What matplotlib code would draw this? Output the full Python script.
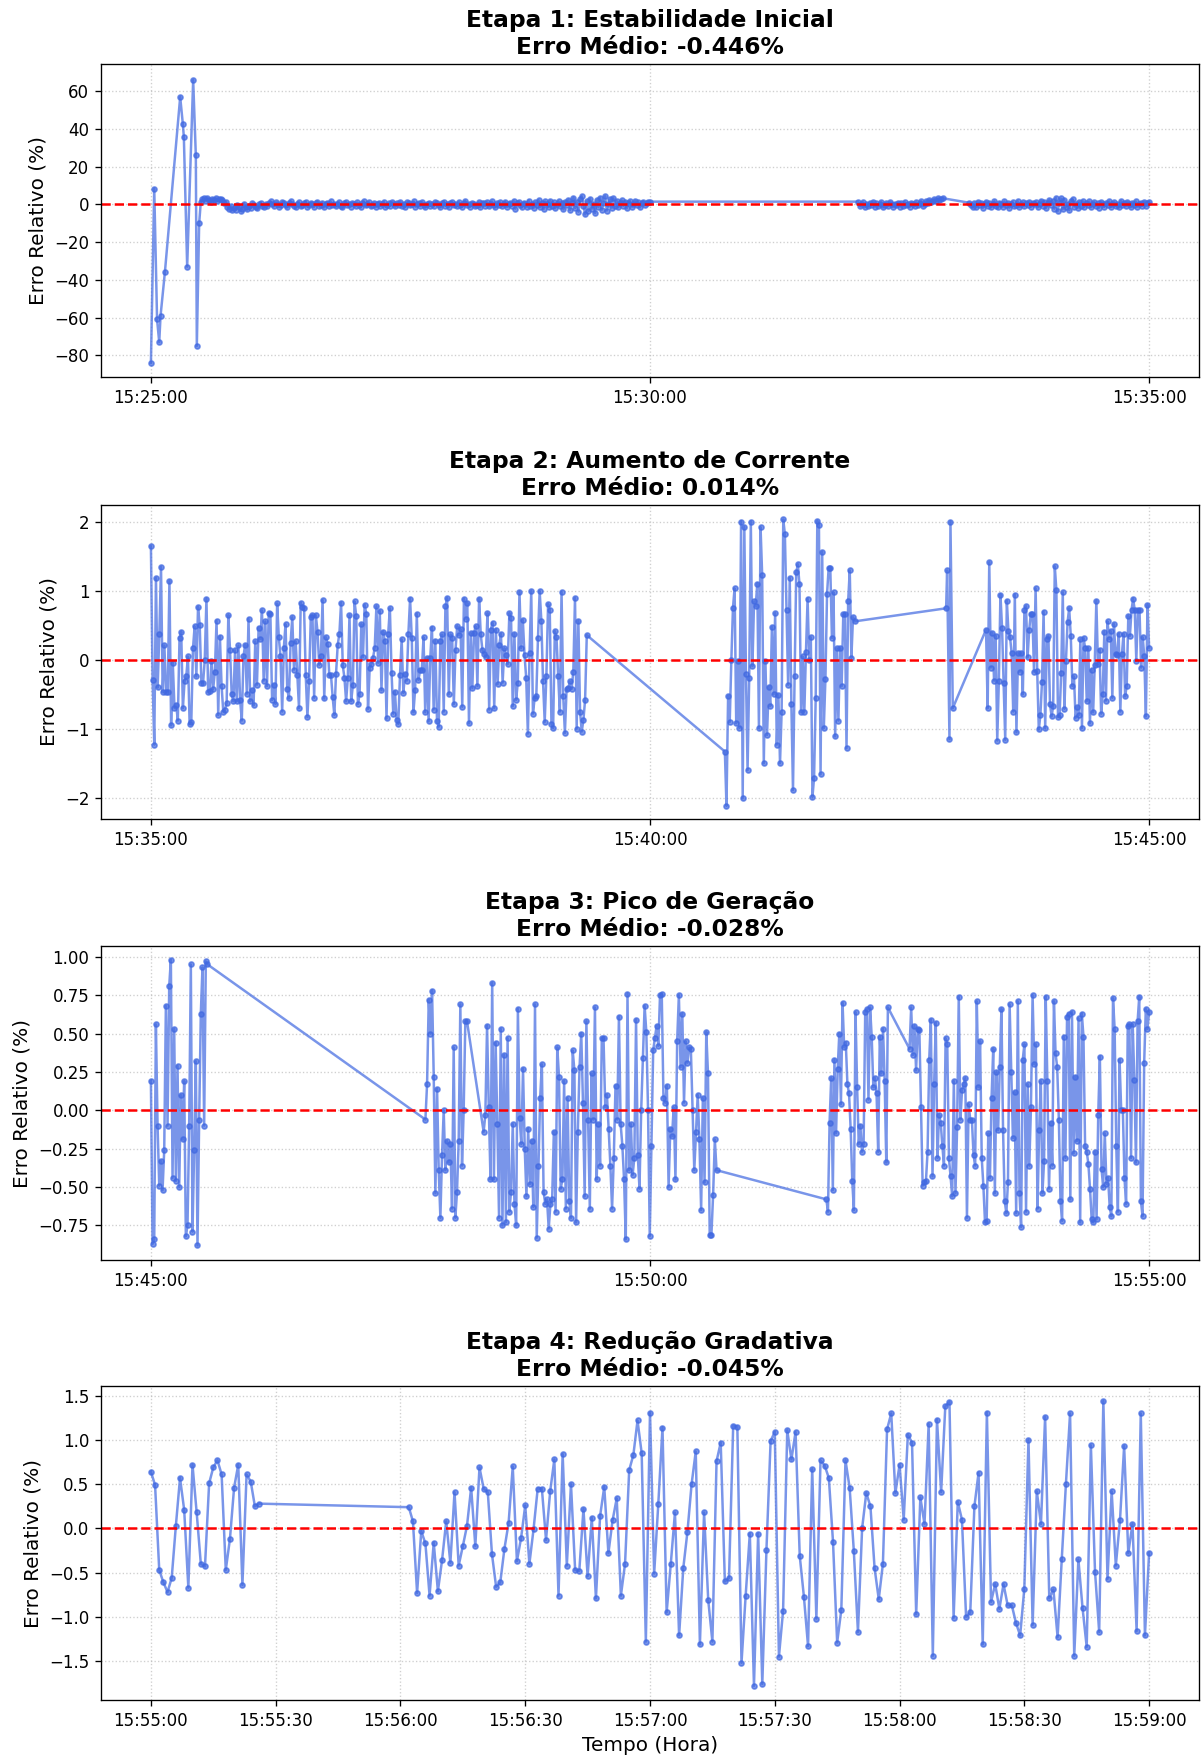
import numpy as np
import pandas as pd
import matplotlib
matplotlib.use("Agg")
import matplotlib.pyplot as plt
import matplotlib.dates as mdates

DAY = "2024-01-01"

# ---------------- Etapa 1 (start 15:25:00) ----------------
P1_START = "15:25:00"
P1_TITLE = "Etapa 1: Estabilidade Inicial"
P1_MEAN = "-0.446"
P1_HEAD_T = [0, 2, 3.7, 5, 5.8, 8.4, 17.6, 19.2, 19.8, 21.8, 25.4, 27, 27.6, 29]
P1_HEAD_V = [-84, 8.4, -61, -73, -59, -36, 57, 42.6, 35.8, -33, 66, 26, -75, -10]
P1_SEG1_SPAN = (30, 300)
P1_SEG1_V = [
    1.5, 2.8, 3.2, 2.1, 3.5, 2.4, 1.2, 3.0, 2.6, 3.4, 1.8, 2.9, 3.1, 2.2, 0.8, 1.5,
    -1.2, -2.5, -0.8, -3.1, -1.9, -2.8, -0.5, -1.6, -3.4, -2.2, 0.4, -1.1, -2.6, -0.9, -1.8, 0.6, -0.3, -1.4, -2.1, 0.2, 0.9, -0.7, -1.5, 0.3, -0.6,
    0.8, 1.6, 0.2, -0.9, 1.1, 0.5, -1.3, -0.4, 1.4, 0.7, -0.2, -1.1, 0.9, 1.8, 0.3, -0.6, -1.5, 0.4, 1.2, -0.8,
    -0.3, 0.6, 1.5, -1.2, -0.5, 0.9, 0.1, -1.4, 0.7, 1.3, -0.7, -0.1, 1.0, -1.6, 0.4, 0.8, -0.9, 1.7, -0.2, 0.5,
    -1.0, 0.3, 1.2, -0.6, -1.3, 0.6, 1.4, -0.4, 0.2, -1.1, 0.9, 0.4, -0.8, 1.1, -0.3, -1.5, 0.7, 1.6, -0.5, 0.1,
    1.3, -0.9, -0.2, 0.8, -1.4, 0.5, 1.0, -0.7, 0.3, 1.5, -1.2, -0.1, 0.6, -0.6, 1.2, 0.2, -1.0, 0.9, -0.4, 1.4,
    -0.8, 0.4, -1.3, 1.1, 0.7, -0.5, 0.0, 1.6, -1.1, 0.3, 0.8, -0.9, 1.3, -0.2, -1.4, 0.5, 1.0, -0.6, 0.2, -1.0,
    1.2, 0.6, -0.3, -1.2, 0.9, 1.5, -0.7, 0.1, -1.6, 0.7, 1.1, -0.4, 0.4, -0.9, 1.4, -0.1, -1.3, 0.8, 1.7, -0.5,
    0.3, -1.1, 1.0, 0.5, -0.8, -0.2, 1.3, -1.5, 0.6, 0.9, -0.6, 1.2, -1.0, 0.2, 1.6, -0.3, -1.2, 0.7, -0.4, 1.1,
    -0.9, 0.4, 1.5, -1.3, 0.0, 0.8, -0.7, 1.9, -2.2, 0.6, 1.4, -0.5, -1.6, 1.0, 0.3, -1.1, 2.1, -0.8, 0.5, -1.8,
    1.2, -0.4, 2.3, -1.5, 0.7, -2.4, 1.6, 0.2, -1.2, 2.0, -0.6, 1.1, -2.0, 0.4, 1.8, -1.0, 0.9, -2.6, 1.4, -0.3,
    2.5, -3.0, 0.8, 3.6, -1.9, 1.2, -3.8, 2.9, 4.4, -0.6, -5.3, 1.7, -3.5, 3.1, -2.2, 0.5, -4.6, 2.4, -1.4, 3.5,
    -2.8, 1.0, 4.4, -3.2, 0.2, 2.7, -1.7, 3.3, -0.9, 1.9,
    -1.5, 0.6, 2.2, -0.8, 1.4, -2.0, 0.9, 1.8, -1.1, 0.3, 2.0, -0.5, 1.2, -1.6, 0.7, 1.5, -0.4, 0.8, 1.1, 1.5,
]
P1_SEG2_SPAN = (425, 476)
P1_SEG2_V = [
    1.5, -0.8, 0.4, 1.2, -1.5, 0.2, -1.0, 0.9, -0.3, 1.4, -1.2, 0.6, -0.6, 0.1, 1.1, -1.6, -0.2, 0.8, -0.9, 1.3,
    0.3, -1.3, 0.5, -0.4, 1.0, -1.1, 0.7, -0.7, 1.5, -0.2, 0.4, -1.4, 0.9, 0.0, -0.8, 1.2, -0.5, 0.6, 1.6, -1.0,
    0.2, 1.9, 0.8, 2.4, 1.1, 2.0, 2.8, 1.6, 3.2, 2.5, 3.0, 3.3,
]
P1_SEG3_SPAN = (492, 600)
P1_SEG3_V = [
    0.9, -0.5, -1.6, 0.7, -1.2, 1.4, -0.3, 0.6, -1.8, 0.2, 1.5, -0.9, 0.8, -1.5, 0.4, 1.7, -0.6, -1.3, 1.0, 0.1,
    -1.1, 1.6, -0.4, 0.9, -1.7, 0.5, 1.3, -0.8, -0.2, 1.8, -1.4, 0.3, 1.1, -1.0, 0.6, -0.5, 1.5, -1.2, 0.8, 0.0,
    1.2, -1.6, 0.4, 2.1, -0.7, 1.4, -1.9, 0.7, 2.4, -0.3, 1.9, -2.2, 3.4, -3.6, 1.0, 3.2, -2.5, 2.6, -1.4, 0.5,
    -3.0, 1.8, 2.9, -1.1, 0.3, -1.8, 1.3, -0.6, 2.0, -1.3, 0.9, -0.4, 1.6, -1.5, 0.2, 1.1, -0.9, 0.6, -1.7, 1.4,
    0.4, -1.2, 0.8, -0.3, 1.7, -1.4, 0.1, 1.2, -0.8, 0.5, -1.6, 1.9, -0.2, 0.7, -1.0, 1.3, 0.3, -1.5, 0.9, -0.5,
    1.6, -1.1, 0.2, 1.0, -0.7, 1.4, -0.6, 0.8, 1.2,
]

# ---------------- Etapa 2 (start 15:35:00) ----------------
P2_START = "15:35:00"
P2_TITLE = "Etapa 2: Aumento de Corrente"
P2_MEAN = "0.014"
P2_SEG1_SPAN = (0, 262)
P2_SEG1_V = [
    1.65, -0.29, -1.23, 1.19, -0.40, 0.37, 1.35, -0.47, 0.21, -0.46, -0.46, 1.15, -0.95, -0.04, -0.70, -0.65,
    -0.88, 0.32, 0.41, -0.70, -0.31, -0.24, 0.05, -0.93, -0.90, 0.17, 0.49, -0.24, 0.77, 0.51, -0.33, -0.33,
    0.00, 0.89, -0.46, -0.45, -0.02, -0.42, -0.17, 0.57, -0.80, 0.34, -0.38, -0.75, -0.72, -0.63, 0.65, 0.15,
    -0.50, -0.60, 0.14, -0.60, 0.21, -0.58, -0.88, 0.05, 0.22, -0.49, 0.60, -0.60, -0.43, -0.66, 0.27, -0.36,
    0.47, 0.30, 0.72, -0.30, 0.56, -0.38, 0.68, 0.66, -0.58, -0.36, -0.64, 0.82, 0.33, 0.05, -0.75, 0.18,
    0.52, -0.42, -0.56, 0.25, 0.62, -0.14, 0.27, -0.22, -0.70, 0.83, 0.77, 0.76, -0.22, -0.83, -0.30, 0.62,
    0.65, -0.55, 0.65, 0.41, -0.07, 0.05, 0.87, -0.56, 0.33, 0.23, -0.22, -0.22, -0.54, -0.80, -0.20, 0.22,
    0.38, 0.83, -0.08, -0.26, -0.60, -0.26, 0.65, -0.60, -0.37, 0.85, 0.64, -0.64, -0.50, 0.52, 0.04, 0.80,
    0.67, -0.71,
    -0.11, -0.06, 0.03, 0.18, 0.78, -0.04, 0.71, -0.44, 0.41, 0.27, -0.85, 0.38, 0.75, -0.19, -0.78, -0.46,
    -0.87, -0.93, -0.22, 0.30, -0.48, -0.20, -0.30, 0.38, 0.89, 0.32, -0.76, -0.43, 0.67, -0.29, -0.14, -0.14,
    0.33, -0.76, 0.03, -0.89, 0.03, 0.47, -0.72, 0.28, -0.89, -0.97, 0.28, 0.37, -0.75, 0.78, 0.90, -0.50,
    0.37, 0.32, -0.64, 0.15, 0.49, 0.36, 0.45, -0.68, 0.89, 0.60, 0.83, -0.92, 0.39, -0.41, 0.39, 0.49,
    -0.38, 0.89, 0.37, 0.14, 0.09, 0.04, 0.68, -0.72, 0.44, 0.54, -0.70, 0.44, -0.35, 0.22, 0.38, -0.33,
    0.17, 0.07, -0.06, 0.68, 0.61, -0.67, 0.38, -0.58, -0.33, 0.99, 0.17, 0.58, 0.07, -0.26, -1.07, 0.10,
    1.00, -0.78, -0.56, -0.53, 0.32, 1.00, 0.57, -0.31, -0.90, -0.23, 0.81, 0.73, -0.93, -0.99, 0.42, 0.33,
    -0.23, -0.75, 0.99, -0.53, -1.06, -0.42, -0.41, -0.31, -0.42, -0.17, 0.90, -1.00, 0.57, -0.75, -1.04, -0.87,
    -0.58, 0.36,
]
P2_SEG2_SPAN = (345, 423)
P2_SEG2_V = [
    -1.33, -2.12, -0.52, -0.90, 0.00, 0.76, 1.04, -0.92, -0.01, -0.99, 2.01, -2.01, 1.93, -0.21, -1.60, -0.26,
    2.01, -0.09, 0.85, 0.78, 1.11, -0.99, 1.93, 1.23, -1.50, -0.01, -1.09, -0.39, -0.67, 0.48, -0.50, 0.68,
    -1.23, -0.51, -1.50, -0.75, 2.04, 1.83, 0.72, -0.36, 1.19, -0.64, -1.89, -0.23, 1.27, 1.39, 1.10, -0.76,
    0.05, -0.75, 0.12, 0.89, 0.00, 0.33, -1.99, -1.71, -0.56, 2.02, 1.96, -1.66, 1.57, -0.99, -0.27, 0.96,
    1.34, 1.33, 0.32, 0.98, -1.11, 0.17, -0.88, 0.17, -0.38, 0.66, 0.67, -1.28, 0.85, 1.30, 0.03, 0.62, 0.56,
]
P2_SPIKE_T = [478, 478.6, 480, 480.6, 482]
P2_SPIKE_V = [0.75, 1.30, -1.15, 2.01, -0.70]
P2_SEG3_SPAN = (502, 600)
P2_SEG3_V = [
    0.44, -0.70, 1.42, -0.11, 0.39, -0.30, 0.35, -1.17, -0.31, 0.95, 0.47, -0.33, -1.16, 0.86, 0.42, 0.33,
    0.10, -0.75, 0.95, -1.05, 0.10, -0.17, 0.10, -0.50, 0.73, 0.78, 0.04, 0.44, 0.67, 0.66, -0.17, 1.04,
    -0.16, -1.01, -0.80, -0.32, 0.70, -0.99, 0.31, 0.35, -0.64, -0.82, -0.67, 1.36, 1.01, -0.83, -0.80, -0.19,
    0.98, -0.71, -0.01, 0.55, 0.75, 0.35, -0.38, -0.24, -0.84, -0.69, -0.80, 0.30, -0.99, 0.32, 0.17, -0.60,
    0.17, -0.92, -0.14, -0.76, -0.07, 0.86, -0.06, 0.15, -0.78, -0.50, 0.41, -0.59, 0.56, 0.31, 0.42, -0.55,
    0.52, 0.08, 0.07, 0.38, -0.75, 0.08, 0.38, -0.53, -0.38, 0.64, 0.35, 0.72, 0.89, 0.73, -0.01, 0.73,
    0.73, -0.11, 0.33, 0.05, -0.82, 0.80, 0.18,
]

# ---------------- Etapa 3 (start 15:45:00) ----------------
P3_START = "15:45:00"
P3_TITLE = "Etapa 3: Pico de Geração"
P3_MEAN = "-0.028"
P3_SEG1_SPAN = (0, 34)
P3_SEG1_V = [
    0.19, -0.87, -0.84, 0.56, -0.10, -0.49, -0.33, -0.52, -0.26, 0.68, -0.10, 0.81, 0.98, -0.44, 0.53, -0.46,
    0.29, -0.50, 0.10, -0.19, 0.19, -0.82, -0.75, -0.10, 0.95, -0.79, -0.26, 0.32, -0.88, -0.06, 0.63, 0.93,
    -0.10, 0.97, 0.95,
]
P3_SEG2_SPAN = (165, 190)
P3_SEG2_V = [
    -0.06, 0.17, 0.72, 0.50, 0.78, 0.22, -0.54, 0.14, -0.39, -0.70, -0.29, 0.00, -0.39, -0.20, -0.34, -0.22,
    -0.64, 0.41, -0.70, -0.53, -0.20, 0.69, -0.36, 0.00, 0.58, 0.58,
]
P3_SEG3_SPAN = (200, 340)
P3_SEG3_V = [
    -0.14, -0.03, 0.55, 0.02, -0.45, 0.83, -0.45, 0.44, -0.09, -0.70, 0.53, -0.75, 0.36, -0.73, 0.47, -0.66,
    -0.53, -0.09, -0.61, -0.75, 0.66, -0.05, -0.22, 0.27, -0.25, -0.56, -0.12, -0.48, -0.20, -0.63, 0.69, -0.83,
    -0.36, 0.08, 0.30, -0.53, -0.61, -0.58, -0.77, -0.61, -0.58, -0.14, -0.66, 0.41, 0.22, -0.51, -0.45, 0.19,
    -0.64, 0.08, -0.59, -0.70, 0.39, 0.26, -0.73, -0.14, 0.28, 0.50, 0.05, -0.56, 0.58, -0.06, -0.64, 0.24,
    -0.06, 0.67, -0.45, -0.09, -0.36, 0.47, 0.47, 0.02, 0.10, -0.12, -0.36, -0.64, -0.31, 0.16, -0.06, 0.61,
    -0.09, -0.23, -0.45, -0.84, 0.76, -0.39, -0.09, -0.42, -0.31, 0.59, -0.29, -0.51, 0.00, 0.34, 0.68, 0.51,
    0.00, -0.82, -0.23, 0.39, 0.47, 0.55, 0.42, 0.75, 0.76, 0.08, 0.05, 0.16, -0.50, -0.12, -0.17, 0.02,
    -0.45, 0.45, 0.75, 0.28, 0.63, 0.05, 0.45, 0.31, 0.41, 0.40, 0.00, -0.39, -0.14, 0.10, -0.19, -0.65,
    0.08, -0.47, 0.51, 0.24, -0.81, -0.81, -0.55, -0.19, -0.39,
]
P3_SEG4_SPAN = (406, 443)
P3_SEG4_V = [
    -0.58, -0.66, -0.08, 0.21, -0.52, 0.33, -0.15, 0.27, 0.50, 0.04, 0.70, 0.41, 0.44, 0.17, 0.11, -0.12,
    -0.46, -0.65, 0.64, 0.15, -0.22, -0.10, -0.27, -0.22, 0.64, 0.66, 0.07, 0.67, 0.48, 0.15, 0.21, 0.11,
    -0.27, 0.48, 0.24, 0.53, 0.19, -0.34, 0.67,
]
P3_SEG5_SPAN = (456, 600)
P3_SEG5_V = [
    0.40, 0.67, 0.36, 0.55, 0.26, 0.53, 0.52, 0.02, -0.49, -0.47, -0.46, -0.27, 0.33, 0.59, -0.43, 0.17,
    0.57, -0.31, -0.03, -0.08, -0.23, -0.36, 0.47, 0.43, -0.31, -0.43, -0.56, 0.19, -0.54, -0.11, 0.74, -0.06,
    0.13, 0.17, 0.21, -0.70, 0.04, -0.06, -0.06, -0.29, -0.36, 0.71, 0.15, 0.45, -0.31, -0.49, -0.73, -0.72,
    -0.15, -0.44, 0.08, 0.40, -0.54, 0.25, -0.13, 0.28, 0.66, -0.13, -0.59, -0.67, -0.47, 0.69, 0.25, -0.18,
    0.12, -0.67, 0.71, -0.54, -0.76, 0.33, 0.43, -0.66, 0.17, -0.36, 0.02, 0.75, 0.30, 0.43, -0.64, -0.13,
    0.19, -0.54, -0.33, 0.74, 0.19, -0.51, -0.08, -0.36, 0.71, 0.37, 0.28, -0.06, -0.59, -0.72, 0.48, -0.31,
    0.61, 0.63, -0.58, 0.64, -0.28, 0.22, -0.20, 0.60, -0.73, 0.63, 0.48, -0.23, -0.27, -0.35, -0.51, -0.71,
    -0.73, -0.27, -0.71, -0.03, 0.35, -0.38, -0.50, -0.15, -0.48, -0.44, -0.63, -0.69, 0.73, 0.53, -0.23, -0.66,
    0.33, 0.00, 0.00, -0.44, -0.61, 0.55, 0.56, -0.31, 0.56, 0.20, -0.34, 0.58, 0.74, -0.59, -0.69, 0.31,
    0.66, 0.53, 0.64,
]

# ---------------- Etapa 4 (start 15:55:00) ----------------
P4_START = "15:55:00"
P4_TITLE = "Etapa 4: Redução Gradativa"
P4_MEAN = "-0.045"
P4_SEG1_SPAN = (0, 26)
P4_SEG1_V = [
    0.64, 0.49, -0.47, -0.61, -0.72, -0.56, 0.03, 0.57, 0.21, -0.67, 0.72, 0.18, -0.40, -0.43, 0.51, 0.69,
    0.77, 0.61, -0.47, -0.12, 0.46, 0.72, -0.64, 0.61, 0.53, 0.25, 0.28,
]
P4_SEG2_SPAN = (62, 240)
P4_SEG2_V = [
    0.24, 0.08, -0.73, -0.03, -0.17, -0.76, -0.16, -0.71, -0.36, 0.08, -0.39, 0.41, -0.42, -0.20, 0.03, 0.46,
    -0.20, 0.69, 0.45, 0.41, -0.29, -0.66, -0.61,
    -0.23, 0.06, 0.70, -0.37, -0.11, 0.26, -0.40, -0.01, 0.45, 0.45, -0.13, 0.42, 0.78, -0.76, 0.84, -0.42,
    0.50, -0.47, -0.48, 0.22, -0.54, 0.12, -0.79, 0.14, 0.47, -0.28, 0.09, 0.34, -0.76, -0.40, 0.66, 0.83,
    1.22, 0.85, -1.28, 1.31, -0.51, 0.28, 1.14, -0.95, -0.40, 0.18, -1.21, -0.45, -0.04, 0.50, 0.87, -1.31,
    0.18, -0.81, -1.28, 0.76, 0.97, -0.60, -0.56, 1.16, 1.15, -1.52, -0.76, -0.06, -1.78, -0.06, -1.76, -0.24,
    0.99, 1.09, -1.45, -0.93, 1.11, 0.78, 1.09, -0.31, -0.77, -1.33, 0.67, -1.02, 0.77, 0.71, 0.57, -0.15,
    -1.29, -0.92, 0.77, 0.46, -0.25, -1.17, 0.00, 0.40, 0.25, -0.45, -0.80, -0.40, 1.12, 1.30, 0.40, 0.72,
    0.10, 1.06, 0.97, -0.97, 0.35, 0.05, 1.18, -1.44, 1.23, 0.41, 1.38, 1.43, -1.01, 0.30, 0.10, -1.00,
    -0.95, 0.25, 0.63, -1.31, 1.31, -0.83, -0.63, -0.91, -0.63, -0.87, -0.87, -1.07, -1.21, -0.68, 1.00, -1.09,
    0.42, 0.05, 1.26, -0.79, -0.69, -1.23, -0.35, 0.50, 1.30, -1.44, -0.35, -0.90, -1.34, 0.94, -0.49, -1.17,
    1.44, -0.57, 0.42, -0.42, 0.09, 0.93, -0.28, 0.05, -1.16, 1.30, -1.21, -0.28,
]

Y_LIMS = [(-91.5, 74.5), (-2.31, 2.25), (-0.975, 1.07), (-1.94, 1.61)]


def series(start, explicit, spans):
    base = pd.Timestamp(f"{DAY} {start}")
    secs, vals = [], []
    for t_list, v_list in explicit:
        secs.extend(t_list)
        vals.extend(v_list)
    for (t0, t1), v_list in spans:
        secs.extend(np.linspace(t0, t1, len(v_list)))
        vals.extend(v_list)
    order = np.argsort(secs, kind="stable")
    secs = np.asarray(secs)[order]
    vals = np.asarray(vals)[order]
    times = base + pd.to_timedelta(secs, unit="s")
    return times, vals


panels = [
    (P1_TITLE, P1_MEAN, series(P1_START, [(P1_HEAD_T, P1_HEAD_V)],
                               [(P1_SEG1_SPAN, P1_SEG1_V), (P1_SEG2_SPAN, P1_SEG2_V), (P1_SEG3_SPAN, P1_SEG3_V)])),
    (P2_TITLE, P2_MEAN, series(P2_START, [(P2_SPIKE_T, P2_SPIKE_V)],
                               [(P2_SEG1_SPAN, P2_SEG1_V), (P2_SEG2_SPAN, P2_SEG2_V), (P2_SEG3_SPAN, P2_SEG3_V)])),
    (P3_TITLE, P3_MEAN, series(P3_START, [],
                               [(P3_SEG1_SPAN, P3_SEG1_V), (P3_SEG2_SPAN, P3_SEG2_V), (P3_SEG3_SPAN, P3_SEG3_V),
                                (P3_SEG4_SPAN, P3_SEG4_V), (P3_SEG5_SPAN, P3_SEG5_V)])),
    (P4_TITLE, P4_MEAN, series(P4_START, [],
                               [(P4_SEG1_SPAN, P4_SEG1_V), (P4_SEG2_SPAN, P4_SEG2_V)])),
]

W, H, DPI = 1202, 1760, 120
fig = plt.figure(figsize=(W / DPI, H / DPI), dpi=DPI)
boxes = [(64, 377), (505, 819), (946, 1260), (1386, 1700)]
left_px, right_px = 101, 1199

for i, ((title, mean, (times, vals)), (top, bot)) in enumerate(zip(panels, boxes)):
    ax = fig.add_axes([left_px / W, 1 - bot / H, (right_px - left_px) / W, (bot - top) / H])
    ax.plot(times, vals, marker="o", markersize=3, linewidth=1.5, alpha=0.7, color="royalblue")
    ax.axhline(0, color="red", linestyle="--", linewidth=1.5)
    ax.set_title(f"{title}\nErro Médio: {mean}%", fontsize=14, fontweight="bold")
    ax.set_ylabel("Erro Relativo (%)", fontsize=12)
    ax.grid(True, linestyle=":", alpha=0.6)
    ax.set_ylim(*Y_LIMS[i])
    if i < 3:
        ax.xaxis.set_major_locator(mdates.MinuteLocator(byminute=range(0, 60, 5)))
    else:
        ax.xaxis.set_major_locator(mdates.SecondLocator(bysecond=[0, 30]))
        ax.set_xlabel("Tempo (Hora)", fontsize=12)
    ax.xaxis.set_major_formatter(mdates.DateFormatter("%H:%M:%S"))

fig.savefig("out.png", dpi=DPI)
